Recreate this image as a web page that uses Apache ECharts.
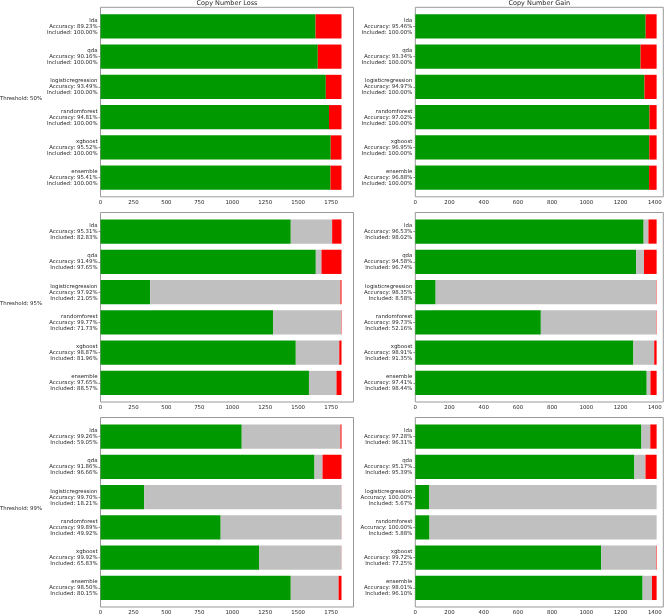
<!DOCTYPE html>
<html>
<head>
<meta charset="utf-8">
<script src="https://cdn.jsdelivr.net/npm/echarts@6/dist/echarts.min.js"></script>
<style>
  html, body { margin: 0; padding: 0; background: #fff; }
  #chart { width: 669px; height: 616px; }
</style>
</head>
<body>
<div id="chart"></div>
<script>
const models = ['lda', 'qda', 'logisticregression', 'randomforest', 'xgboost', 'ensemble'];
const thresholds = ['50%', '95%', '99%'];
const panelTitles = ['Copy Number Loss', 'Copy Number Gain'];
const lossTicks = [0, 250, 500, 750, 1000, 1250, 1500, 1750];
const gainTicks = [0, 200, 400, 600, 800, 1000, 1200, 1400];

// counts per model: correct / excluded (below threshold) / incorrect
const lossCorrect50 = [1632, 1649, 1710, 1734, 1747, 1745];
const lossExcluded50 = [0, 0, 0, 0, 0, 0];
const lossWrong50 = [197, 180, 119, 95, 82, 84];
const lossCorrect95 = [1444, 1634, 377, 1309, 1482, 1582];
const lossExcluded95 = [314, 43, 1444, 517, 330, 209];
const lossWrong95 = [71, 152, 8, 3, 17, 38];
const lossCorrect99 = [1072, 1624, 332, 912, 1203, 1444];
const lossExcluded99 = [749, 61, 1496, 916, 625, 363];
const lossWrong99 = [8, 144, 1, 1, 1, 22];

const gainCorrect50 = [1347, 1317, 1340, 1369, 1368, 1367];
const gainExcluded50 = [0, 0, 0, 0, 0, 0];
const gainWrong50 = [64, 94, 71, 42, 43, 44];
const gainCorrect95 = [1335, 1291, 119, 734, 1275, 1353];
const gainExcluded95 = [28, 46, 1290, 675, 122, 22];
const gainWrong95 = [48, 74, 2, 2, 14, 36];
const gainCorrect99 = [1322, 1281, 80, 83, 1087, 1329];
const gainExcluded99 = [52, 65, 1331, 1328, 321, 55];
const gainWrong99 = [37, 65, 0, 0, 3, 27];

const panels = [
  [[lossCorrect50, lossExcluded50, lossWrong50], [gainCorrect50, gainExcluded50, gainWrong50]],
  [[lossCorrect95, lossExcluded95, lossWrong95], [gainCorrect95, gainExcluded95, gainWrong95]],
  [[lossCorrect99, lossExcluded99, lossWrong99], [gainCorrect99, gainExcluded99, gainWrong99]],
];

const colors = ['#009900', '#c0c0c0', '#ff0000'];
const colLeft = [100.5, 415.3];
const colWidth = [253, 248];
const rowTop = [7.3, 212.5, 417.5];
const rowHeight = 189.5;
const xMax = [1920, 1450];
const font = 'DejaVu Sans';
const textColor = '#262626';
const frameColor = '#999';

const chart = echarts.init(document.getElementById('chart'));

function renderSeg(params, api) {
  const y = api.value(2);
  const p0 = api.coord([api.value(0), y]);
  const p1 = api.coord([api.value(1), y]);
  const h = api.size([0, 0.8])[1];
  return {
    type: 'rect',
    shape: { x: p0[0], y: p0[1] - h / 2, width: p1[0] - p0[0], height: h },
    style: { fill: api.visual('color') },
  };
}

const grid = [], xAxis = [], yAxis = [], series = [], title = [];

panelTitles.forEach((t, c) => {
  title.push({
    text: t, left: colLeft[c] + colWidth[c] / 2, top: 0, padding: 0, textAlign: 'center',
    textStyle: { fontFamily: font, fontSize: 6.5, fontWeight: 'normal', color: textColor },
  });
});

thresholds.forEach((th, r) => {
  title.push({
    text: 'Threshold: ' + th, left: 0, top: rowTop[r] + rowHeight / 2 - 6, padding: 0,
    textStyle: { fontFamily: font, fontSize: 5.4, fontWeight: 'normal', color: textColor },
  });

  for (let c = 0; c < 2; c++) {
    const idx = r * 2 + c;
    const [correct, excluded, wrong] = panels[r][c];
    const labels = models.map((m, i) => {
      const inc = correct[i] + wrong[i];
      const tot = inc + excluded[i];
      return m + '\nAccuracy: ' + (100 * correct[i] / inc).toFixed(2) + '%\nIncluded: ' + (100 * inc / tot).toFixed(2) + '%';
    });

    grid.push({
      left: colLeft[c], top: rowTop[r], width: colWidth[c], height: rowHeight,
      show: true, borderColor: frameColor, borderWidth: 1, backgroundColor: 'transparent',
      outerBoundsMode: 'none', containLabel: false,
    });
    const ticks = c === 0 ? lossTicks : gainTicks;
    xAxis.push({
      type: 'value', gridIndex: idx, min: 0, max: xMax[c],
      axisLine: { show: false },
      splitLine: { show: false },
      axisTick: { show: true, length: 2, lineStyle: { color: frameColor }, customValues: ticks },
      axisLabel: {
        customValues: ticks, margin: 3, fontFamily: font, fontSize: 5.4, color: textColor,
        formatter: (v) => String(v),
      },
    });
    yAxis.push({
      type: 'value', gridIndex: idx, min: -0.63, max: 5.63, inverse: true,
      axisLine: { show: false },
      splitLine: { show: false },
      axisTick: { show: true, length: 2, lineStyle: { color: frameColor }, customValues: [0, 1, 2, 3, 4, 5] },
      axisLabel: {
        customValues: [0, 1, 2, 3, 4, 5], margin: 3, fontFamily: font, fontSize: 5.4, lineHeight: 6,
        color: textColor, align: 'right',
        formatter: (v) => labels[Math.round(v)],
      },
    });

    [correct, excluded, wrong].forEach((vals, k) => {
      const data = vals.map((v, i) => {
        let start = 0;
        for (let j = 0; j < k; j++) start += [correct, excluded, wrong][j][i];
        return [start, start + v, i];
      });
      series.push({
        type: 'custom', xAxisIndex: idx, yAxisIndex: idx,
        renderItem: renderSeg, itemStyle: { color: colors[k] },
        encode: { x: [0, 1], y: 2 }, data: data, silent: true, animation: false,
      });
    });
  }
});

chart.setOption({
  animation: false,
  backgroundColor: '#fff',
  title: title,
  grid: grid,
  xAxis: xAxis,
  yAxis: yAxis,
  series: series,
});
</script>
</body>
</html>
